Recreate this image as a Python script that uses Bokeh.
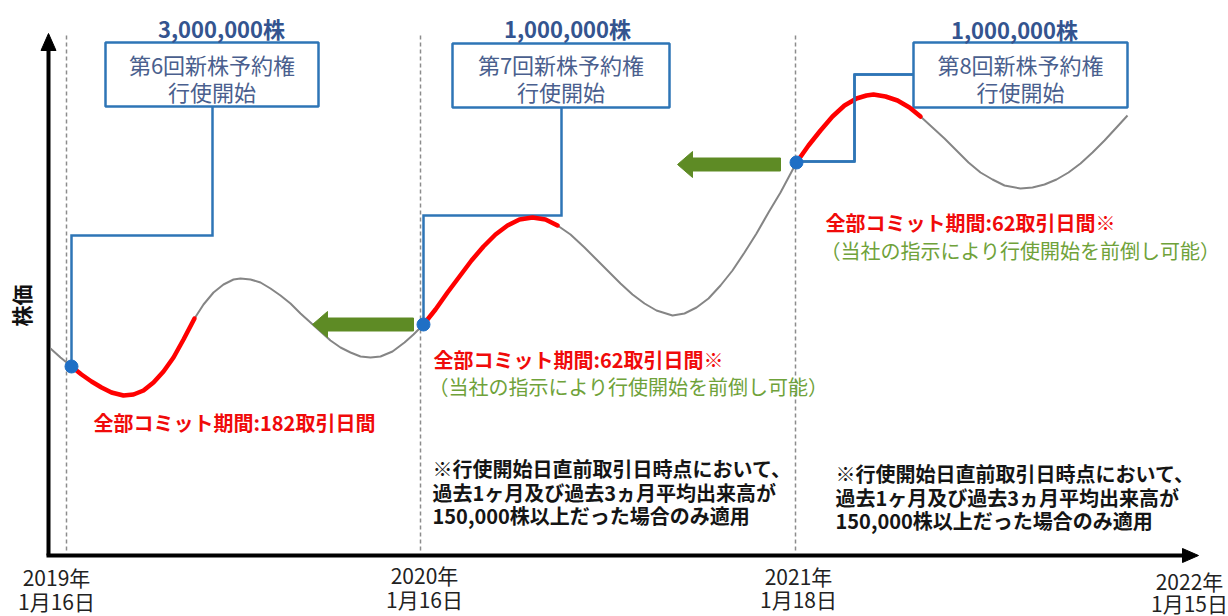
import numpy as np
from bokeh.plotting import figure
from bokeh.models import Range1d
from bokeh.core.properties import value
from bokeh.embed import file_html
from bokeh.resources import INLINE

FONT = value("Noto Sans CJK JP")

# ---- data (in screen-like coordinates) ----
curve_x = [50, 60, 71, 81, 91, 101, 111, 123, 133, 143, 153, 163, 173, 183, 194, 203, 213, 223, 233, 240,
           250, 260, 270, 280, 290, 300, 310, 320, 330, 340, 350, 360, 370, 380, 392, 404, 413, 423, 435, 447,
           459, 471, 483, 495, 507, 519, 532, 545, 557, 570, 584, 596, 608, 620, 632, 644, 656, 672, 684, 696,
           708, 720, 732, 744, 756, 768, 780, 796, 808, 820, 832, 844, 856, 866, 873, 885, 897, 909, 920, 932,
           944, 956, 968, 980, 992, 1004, 1020, 1032, 1044, 1056, 1068, 1080, 1092, 1104, 1116, 1127]
curve_y = [348, 357, 366, 374, 381, 387, 392, 395, 394, 390, 382, 371, 357, 339, 318, 304, 292, 284, 279, 278,
           279, 282, 288, 295, 303, 313, 322, 331, 340, 347, 352, 356, 357, 356, 351, 342, 334, 324, 309, 292,
           276, 260, 246, 234, 225, 219, 217, 219, 225, 234, 247, 259, 271, 283, 294, 303, 310, 315, 313, 307,
           298, 285, 270, 252, 233, 212, 192, 162, 145, 130, 116, 105, 98, 95, 94, 96, 100, 107, 116, 127,
           138, 150, 162, 172, 179, 185, 188, 187, 184, 179, 172, 163, 152, 140, 127, 115]

commit_ranges = [(71, 194), (423, 557), (796, 920)]   # red "全部コミット" periods
start_x = [71, 423, 796]                               # exercise start points
start_y = [366, 324, 162]

period_x = [66, 420, 795]                              # dashed date lines
year_labels = ["2019年", "2020年", "2021年", "2022年"]
day_labels = ["1月16日", "1月16日", "1月18日", "1月15日"]
label_x = [56, 424, 798, 1189]
year_y = [576, 574, 575, 580]
day_y = [600, 598, 598, 602]

box_left = [105, 452, 913]
box_right = [318, 669, 1127]
box_top = [42, 43, 42]
box_bottom = [106, 107, 107]
box_line1 = ["第6回新株予約権", "第7回新株予約権", "第8回新株予約権"]
box_line2 = ["行使開始", "行使開始", "行使開始"]
shares = ["3,000,000株", "1,000,000株", "1,000,000株"]
shares_x = [221, 567, 1014]

conn_xs = [[212, 212, 71, 71], [561, 561, 423, 423], [913, 854, 854, 796]]
conn_ys = [[106, 235, 235, 360], [107, 215, 215, 318], [74, 74, 161, 161]]

arrow_tail = [413, 780]
arrow_tip = [312, 677]
arrow_y = [324, 164]

commit_texts = ["全部コミット期間:182取引日間", "全部コミット期間:62取引日間※", "全部コミット期間:62取引日間※"]
commit_x = [93, 433, 825]
commit_y = [422, 359, 222]
note_text = "（当社の指示により行使開始を前倒し可能）"
note_x = [428, 820]
note_y = [386, 250]
foot_lines = ["※行使開始日直前取引日時点において、", "過去1ヶ月及び過去3ヵ月平均出来高が", "150,000株以上だった場合のみ適用"]
foot_x = [432, 835]
foot_y0 = [468, 473]

# ---- figure ----
p = figure(width=1228, height=616, x_range=Range1d(0, 1228), y_range=Range1d(616, 0),
           output_backend="svg", toolbar_location=None, min_border=0)
p.axis.visible = False
p.grid.visible = False
p.outline_line_color = None
p.background_fill_color = "white"
p.border_fill_color = "white"

# dashed date lines
for x in period_x:
    p.line([x, x], [35, 553], line_color="#8c8c8c", line_width=1.5, line_dash="4 3")

# axes with arrow heads
p.line([48, 48], [555, 48], line_color="black", line_width=4)
p.line([46, 1184], [555, 555], line_color="black", line_width=4)
p.patch([40.5, 48, 55.5], [50, 33, 50], fill_color="black", line_color="black")
p.patch([1182, 1198, 1182], [548, 555, 562], fill_color="black", line_color="black")

# connectors
p.multi_line(conn_xs, conn_ys, line_color="#2E75B6", line_width=2.5, line_join="miter")

# boxes
p.quad(left=box_left, right=box_right, top=box_top, bottom=box_bottom,
       fill_color="white", line_color="#2E75B6", line_width=2.5)
bcx = [(l + r) / 2 for l, r in zip(box_left, box_right)]
p.text(x=bcx, y=[63, 63, 63], text=box_line1, text_font=FONT, text_font_size="22px",
       text_color="#4A5F8E", text_align="center", text_baseline="middle")
p.text(x=bcx, y=[90, 90, 90], text=box_line2, text_font=FONT, text_font_size="22px",
       text_color="#4A5F8E", text_align="center", text_baseline="middle")
p.text(x=shares_x, y=[27, 27, 28], text=shares, text_font=FONT, text_font_size="22px",
       text_font_style="bold", text_color="#34548F", text_align="center", text_baseline="middle")

# price curve
cx = np.array(curve_x)
cy = np.array(curve_y)
p.line(cx, cy, line_color="#858585", line_width=2, line_join="round")
for a, b in commit_ranges:
    m = (cx >= a) & (cx <= b)
    p.line(cx[m], cy[m], line_color="#FF0000", line_width=4.5, line_cap="round", line_join="round")

# box 8 connector over curve
p.multi_line([conn_xs[2]], [conn_ys[2]], line_color="#2E75B6", line_width=2.5)

p.scatter(start_x, start_y, size=13, fill_color="#1F6FC5", line_color="#1F6FC5")

# green arrows
for t, h, y in zip(arrow_tail, arrow_tip, arrow_y):
    hb = h + 15
    p.patch([t, hb, hb, h, hb, hb, t], [y - 6.5, y - 6.5, y - 13, y, y + 13, y + 6.5, y + 6.5],
            fill_color="#5E8B25", line_color="#5E8B25")

# texts
p.text(x=commit_x, y=commit_y, text=commit_texts, text_font=FONT, text_font_size="20px",
       text_font_style="bold", text_color="#F00A0A", text_align="left", text_baseline="middle")
p.text(x=note_x, y=note_y, text=[note_text] * 2, text_font=FONT, text_font_size="20px",
       text_color="#6FA23A", text_align="left", text_baseline="middle")
for fx, fy in zip(foot_x, foot_y0):
    p.text(x=[fx] * 3, y=[fy, fy + 24, fy + 47], text=foot_lines, text_font=FONT, text_font_size="20px",
           text_font_style="bold", text_color="#151515", text_align="left", text_baseline="middle")

p.text(x=label_x, y=year_y, text=year_labels, text_font=FONT, text_font_size="21px",
       text_color="#222222", text_align="center", text_baseline="middle")
p.text(x=label_x, y=day_y, text=day_labels, text_font=FONT, text_font_size="21px",
       text_color="#222222", text_align="center", text_baseline="middle")

p.text(x=[20], y=[305], text=["株価"], angle=np.pi / 2, text_font=FONT, text_font_size="21px",
       text_font_style="bold", text_color="#111111", text_align="center", text_baseline="middle")

open("out.html", "w").write(file_html(p, INLINE))
